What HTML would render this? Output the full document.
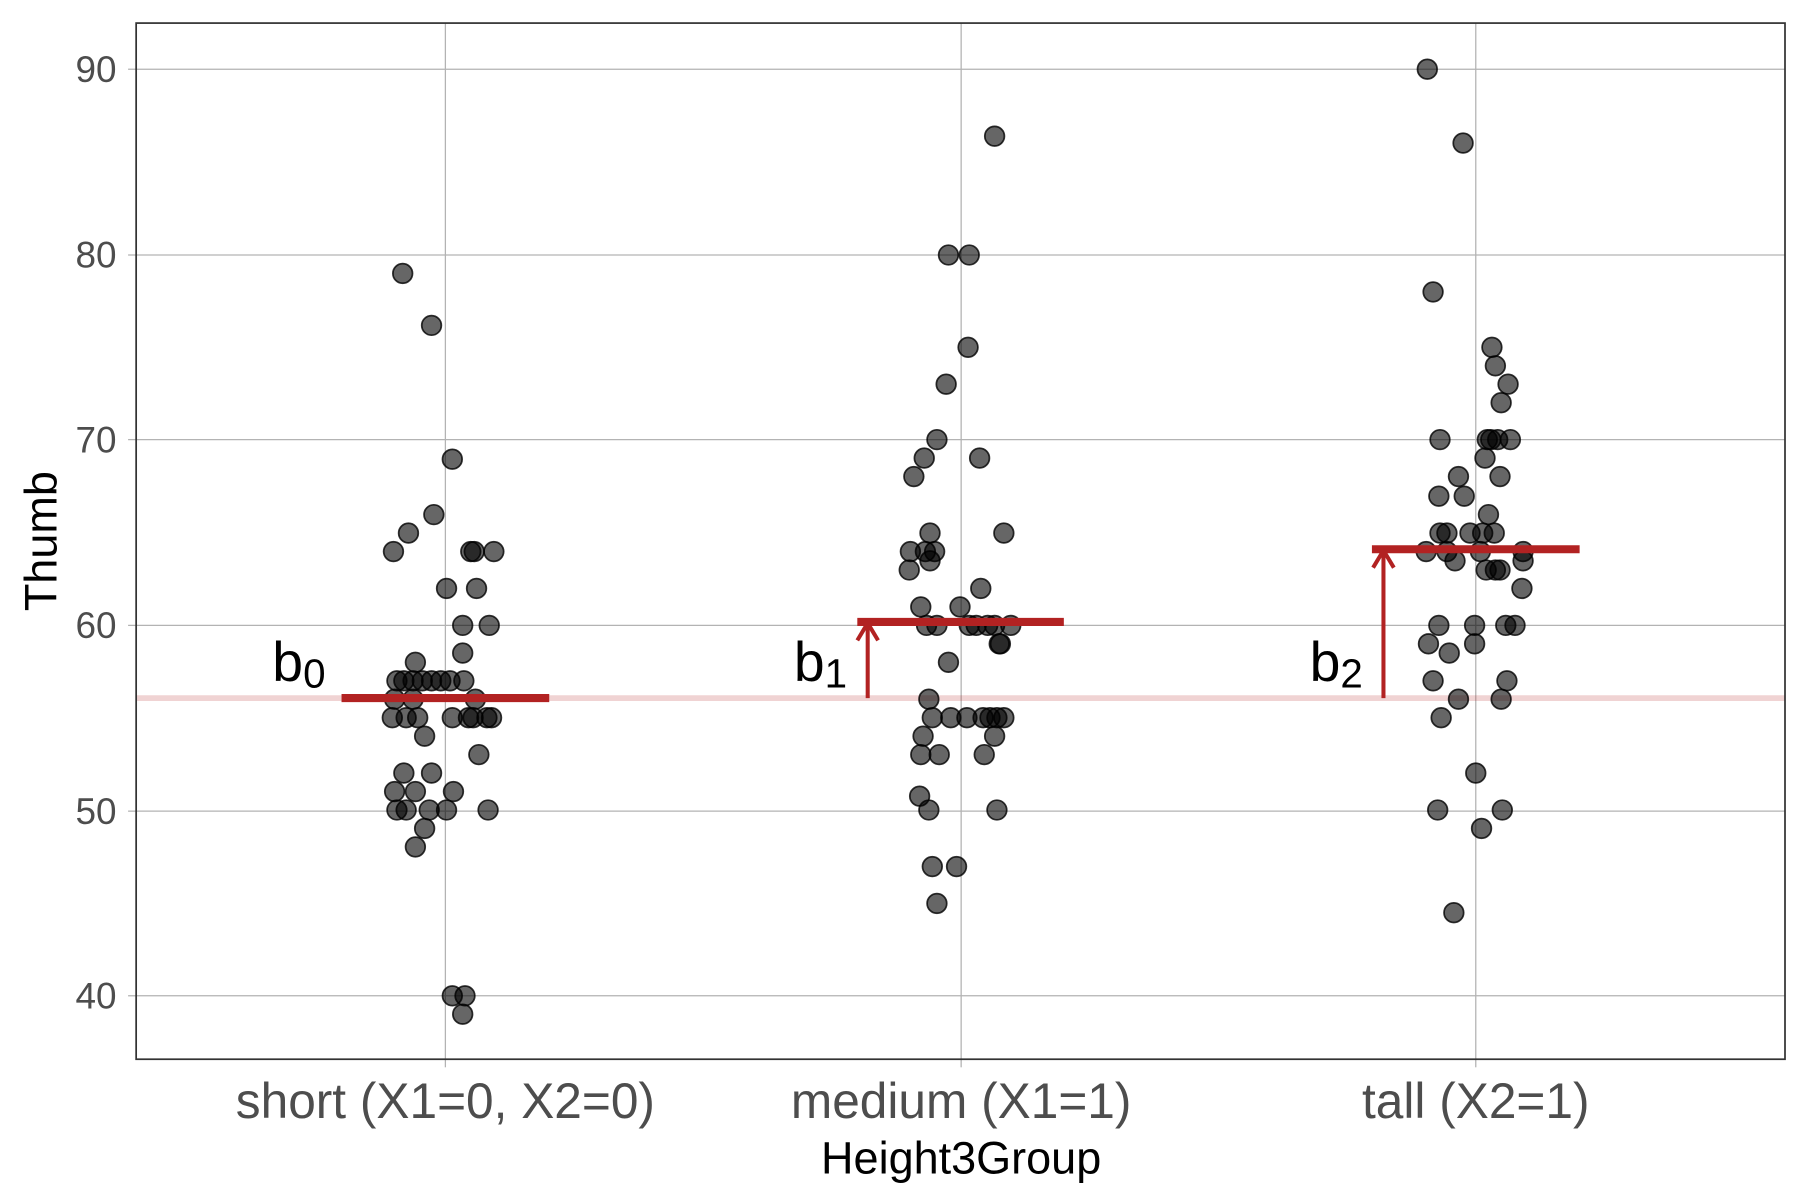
<!DOCTYPE html>
<html><head><meta charset="utf-8"><style>html,body{margin:0;padding:0;background:#fff}svg{display:block}</style></head>
<body>
<svg width="1800" height="1200" viewBox="0 0 1560 1040" xmlns="http://www.w3.org/2000/svg" font-family="Liberation Sans, sans-serif">
<rect width="1560" height="1040" fill="#fff"/>
<g stroke="#b3b3b3" stroke-width="1.1">
<line x1="118" x2="1547" y1="60" y2="60"/><line x1="118" x2="1547" y1="221" y2="221"/><line x1="118" x2="1547" y1="381" y2="381"/><line x1="118" x2="1547" y1="542" y2="542"/><line x1="118" x2="1547" y1="703" y2="703"/><line x1="118" x2="1547" y1="863" y2="863"/>
<line x1="386" x2="386" y1="20" y2="918"/><line x1="833" x2="833" y1="20" y2="918"/><line x1="1279" x2="1279" y1="20" y2="918"/>
<line x1="111" x2="118" y1="60" y2="60"/><line x1="111" x2="118" y1="221" y2="221"/><line x1="111" x2="118" y1="381" y2="381"/><line x1="111" x2="118" y1="542" y2="542"/><line x1="111" x2="118" y1="703" y2="703"/><line x1="111" x2="118" y1="863" y2="863"/>
<line x1="386" x2="386" y1="918" y2="925"/><line x1="833" x2="833" y1="918" y2="925"/><line x1="1279" x2="1279" y1="918" y2="925"/>
</g>
<line x1="118" x2="1547" y1="605" y2="605" stroke="#b22222" stroke-opacity="0.2" stroke-width="5"/>
<g fill="#000" fill-opacity="0.6" stroke="#000" stroke-opacity="0.8" stroke-width="1.5">
<circle cx="349" cy="237" r="8.5"/><circle cx="374" cy="282" r="8.5"/><circle cx="392" cy="398" r="8.5"/><circle cx="376" cy="446" r="8.5"/><circle cx="341" cy="478" r="8.5"/><circle cx="354" cy="462" r="8.5"/><circle cx="408" cy="478" r="8.5"/><circle cx="411" cy="478" r="8.5"/><circle cx="428" cy="478" r="8.5"/><circle cx="387" cy="510" r="8.5"/><circle cx="413" cy="510" r="8.5"/><circle cx="401" cy="542" r="8.5"/><circle cx="424" cy="542" r="8.5"/><circle cx="360" cy="574" r="8.5"/><circle cx="401" cy="566" r="8.5"/><circle cx="344" cy="590" r="8.5"/><circle cx="350" cy="590" r="8.5"/><circle cx="358" cy="590" r="8.5"/><circle cx="366" cy="590" r="8.5"/><circle cx="374" cy="590" r="8.5"/><circle cx="382" cy="590" r="8.5"/><circle cx="390" cy="590" r="8.5"/><circle cx="402" cy="590" r="8.5"/><circle cx="342" cy="606" r="8.5"/><circle cx="358" cy="606" r="8.5"/><circle cx="412" cy="606" r="8.5"/><circle cx="340" cy="622" r="8.5"/><circle cx="352" cy="622" r="8.5"/><circle cx="362" cy="622" r="8.5"/><circle cx="392" cy="622" r="8.5"/><circle cx="406" cy="622" r="8.5"/><circle cx="410" cy="622" r="8.5"/><circle cx="422" cy="622" r="8.5"/><circle cx="426" cy="622" r="8.5"/><circle cx="368" cy="638" r="8.5"/><circle cx="350" cy="670" r="8.5"/><circle cx="374" cy="670" r="8.5"/><circle cx="415" cy="654" r="8.5"/><circle cx="342" cy="686" r="8.5"/><circle cx="360" cy="686" r="8.5"/><circle cx="393" cy="686" r="8.5"/><circle cx="344" cy="702" r="8.5"/><circle cx="352" cy="702" r="8.5"/><circle cx="372" cy="702" r="8.5"/><circle cx="387" cy="702" r="8.5"/><circle cx="423" cy="702" r="8.5"/><circle cx="368" cy="718" r="8.5"/><circle cx="360" cy="734" r="8.5"/><circle cx="392" cy="863" r="8.5"/><circle cx="403" cy="863" r="8.5"/><circle cx="401" cy="879" r="8.5"/>
<circle cx="862" cy="118" r="8.5"/><circle cx="822" cy="221" r="8.5"/><circle cx="840" cy="221" r="8.5"/><circle cx="839" cy="301" r="8.5"/><circle cx="820" cy="333" r="8.5"/><circle cx="812" cy="381" r="8.5"/><circle cx="801" cy="397" r="8.5"/><circle cx="792" cy="413" r="8.5"/><circle cx="849" cy="397" r="8.5"/><circle cx="806" cy="462" r="8.5"/><circle cx="789" cy="478" r="8.5"/><circle cx="810" cy="478" r="8.5"/><circle cx="802" cy="478" r="8.5"/><circle cx="788" cy="494" r="8.5"/><circle cx="806" cy="486" r="8.5"/><circle cx="870" cy="462" r="8.5"/><circle cx="798" cy="526" r="8.5"/><circle cx="850" cy="510" r="8.5"/><circle cx="832" cy="526" r="8.5"/><circle cx="803" cy="542" r="8.5"/><circle cx="812" cy="542" r="8.5"/><circle cx="840" cy="542" r="8.5"/><circle cx="846" cy="542" r="8.5"/><circle cx="856" cy="542" r="8.5"/><circle cx="862" cy="542" r="8.5"/><circle cx="876" cy="542" r="8.5"/><circle cx="867" cy="558" r="8.5"/><circle cx="866" cy="558" r="8.5"/><circle cx="822" cy="574" r="8.5"/><circle cx="805" cy="606" r="8.5"/><circle cx="800" cy="638" r="8.5"/><circle cx="808" cy="622" r="8.5"/><circle cx="824" cy="622" r="8.5"/><circle cx="838" cy="622" r="8.5"/><circle cx="852" cy="622" r="8.5"/><circle cx="858" cy="622" r="8.5"/><circle cx="864" cy="622" r="8.5"/><circle cx="870" cy="622" r="8.5"/><circle cx="862" cy="638" r="8.5"/><circle cx="798" cy="654" r="8.5"/><circle cx="814" cy="654" r="8.5"/><circle cx="853" cy="654" r="8.5"/><circle cx="797" cy="690" r="8.5"/><circle cx="805" cy="702" r="8.5"/><circle cx="864" cy="702" r="8.5"/><circle cx="808" cy="751" r="8.5"/><circle cx="829" cy="751" r="8.5"/><circle cx="812" cy="783" r="8.5"/>
<circle cx="1237" cy="60" r="8.5"/><circle cx="1268" cy="124" r="8.5"/><circle cx="1242" cy="253" r="8.5"/><circle cx="1293" cy="301" r="8.5"/><circle cx="1296" cy="317" r="8.5"/><circle cx="1307" cy="333" r="8.5"/><circle cx="1301" cy="349" r="8.5"/><circle cx="1248" cy="381" r="8.5"/><circle cx="1289" cy="381" r="8.5"/><circle cx="1292" cy="381" r="8.5"/><circle cx="1298" cy="381" r="8.5"/><circle cx="1309" cy="381" r="8.5"/><circle cx="1287" cy="397" r="8.5"/><circle cx="1264" cy="413" r="8.5"/><circle cx="1300" cy="413" r="8.5"/><circle cx="1247" cy="430" r="8.5"/><circle cx="1269" cy="430" r="8.5"/><circle cx="1290" cy="446" r="8.5"/><circle cx="1248" cy="462" r="8.5"/><circle cx="1254" cy="462" r="8.5"/><circle cx="1274" cy="462" r="8.5"/><circle cx="1285" cy="462" r="8.5"/><circle cx="1295" cy="462" r="8.5"/><circle cx="1236" cy="478" r="8.5"/><circle cx="1254" cy="478" r="8.5"/><circle cx="1261" cy="486" r="8.5"/><circle cx="1283" cy="478" r="8.5"/><circle cx="1320" cy="478" r="8.5"/><circle cx="1288" cy="494" r="8.5"/><circle cx="1296" cy="494" r="8.5"/><circle cx="1300" cy="494" r="8.5"/><circle cx="1319" cy="510" r="8.5"/><circle cx="1320" cy="486" r="8.5"/><circle cx="1305" cy="542" r="8.5"/><circle cx="1313" cy="542" r="8.5"/><circle cx="1247" cy="542" r="8.5"/><circle cx="1278" cy="542" r="8.5"/><circle cx="1238" cy="558" r="8.5"/><circle cx="1278" cy="558" r="8.5"/><circle cx="1256" cy="566" r="8.5"/><circle cx="1242" cy="590" r="8.5"/><circle cx="1306" cy="590" r="8.5"/><circle cx="1264" cy="606" r="8.5"/><circle cx="1301" cy="606" r="8.5"/><circle cx="1249" cy="622" r="8.5"/><circle cx="1279" cy="670" r="8.5"/><circle cx="1246" cy="702" r="8.5"/><circle cx="1302" cy="702" r="8.5"/><circle cx="1284" cy="718" r="8.5"/><circle cx="1260" cy="791" r="8.5"/>
</g>
<g stroke="#b22222" fill="none">
<line x1="296" x2="476" y1="605" y2="605" stroke-width="7"/>
<line x1="743" x2="922" y1="539" y2="539" stroke-width="7"/>
<line x1="1189" x2="1369" y1="476" y2="476" stroke-width="7"/>
<line x1="752" x2="752" y1="605" y2="540" stroke-width="3.5"/>
<polyline points="743,555 752,540 761,555" stroke-width="3.5"/>
<line x1="1199" x2="1199" y1="605" y2="477" stroke-width="3.5"/>
<polyline points="1190,492 1199,477 1208,492" stroke-width="3.5"/>
</g>
<g font-size="48" fill="#000">
<text x="236" y="590">b<tspan font-size="35" dy="6">0</tspan></text>
<text x="688" y="590">b<tspan font-size="35" dy="6">1</tspan></text>
<text x="1135" y="590">b<tspan font-size="35" dy="6">2</tspan></text>
</g>
<rect x="118" y="20" width="1429" height="898" fill="none" stroke="#333" stroke-width="1.5"/>
<g font-size="32" fill="#4d4d4d" text-anchor="end">
<text x="101" y="71">90</text><text x="101" y="232">80</text><text x="101" y="392">70</text><text x="101" y="553">60</text><text x="101" y="714">50</text><text x="101" y="874">40</text>
</g>
<g font-size="43" fill="#4d4d4d" text-anchor="middle">
<text x="386" y="969">short (X1=0, X2=0)</text><text x="833" y="969">medium (X1=1)</text><text x="1279" y="969">tall (X2=1)</text>
</g>
<text x="833" y="1017" font-size="39" text-anchor="middle" fill="#000">Height3Group</text>
<text transform="translate(49,469) rotate(-90)" font-size="39" text-anchor="middle" fill="#000">Thumb</text>
</svg>
</body></html>
